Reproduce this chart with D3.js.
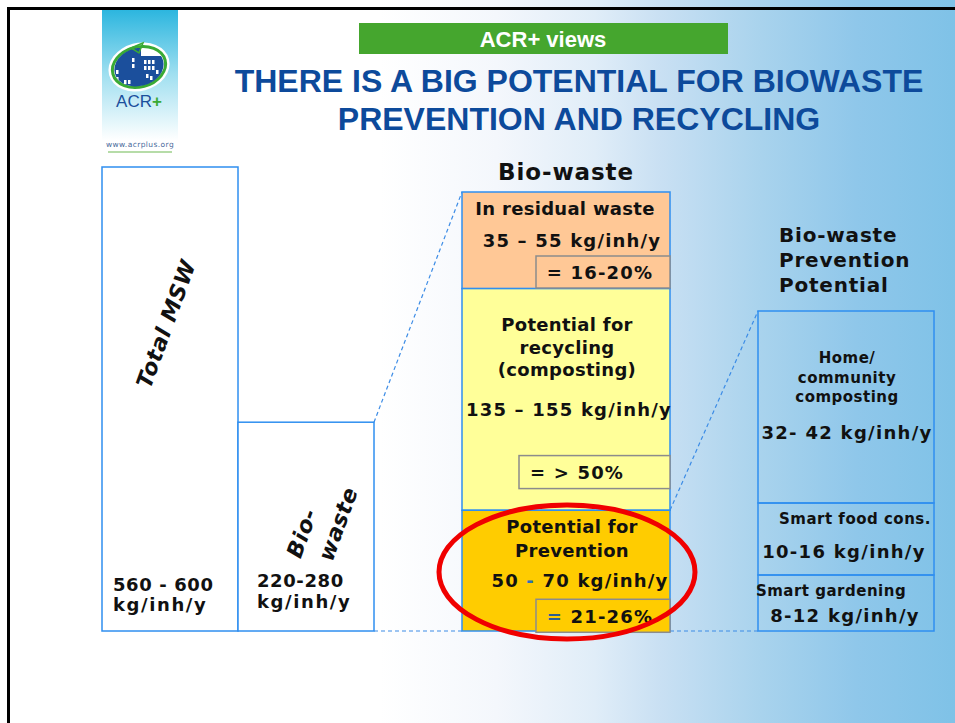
<!DOCTYPE html>
<html>
<head>
<meta charset="utf-8">
<script src="https://cdn.jsdelivr.net/npm/d3@7"></script>
<style>
  html, body { margin: 0; padding: 0; background: #fff; }
  svg { display: block; }
</style>
</head>
<body>
<svg></svg>
<script>
var width = 955
var height = 723

// ---- data ----
const mainCats = ["Total MSW", "Bio-waste"];
const mainValues = [600, 270];               // kg/inh/y, as drawn
const mainRanges = [["560 - 600", "kg/inh/y"], ["220-280", "kg/inh/y"]];

const bioCats = [["In residual waste"], ["Potential for", "recycling", "(composting)"], ["Potential for", "Prevention"]];
const bioShares = [22, 50.5, 27.5];          // % of bio-waste, as drawn
const bioRanges = ["35 – 55 kg/inh/y", "135 – 155 kg/inh/y", "50 - 70 kg/inh/y"];
const bioPct = ["= 16-20%", "= > 50%", "= 21-26%"];

const prevCats = [["Home/", "community", "composting"], ["Smart food cons."], ["Smart gardening"]];
const prevValues = [36, 13.5, 10.5];         // kg/inh/y, as drawn
const prevRanges = ["32- 42 kg/inh/y", "10-16 kg/inh/y", "8-12 kg/inh/y"];

// ---- layout ----
const base = 631
const cols = {msw: [102, 238], bio: [238, 374], detail: [462, 670], prev: [758, 934]}
const bioFill = ["#ffc896", "#ffff99", "#ffcc00"]
const barStroke = "#2f8ff0"
const txt = "#111"
const font = "'DejaVu Sans', Verdana, sans-serif"

var yMain = d3.scaleLinear().domain([0, 600]).range([base, 167])
var yBio = d3.scaleLinear().domain([0, d3.sum(bioShares)]).range([base, 192])
var yPrev = d3.scaleLinear().domain([0, d3.sum(prevValues)]).range([base, 311])

// stack from the top down
function stackTop(values, y) {
    const total = d3.sum(values)
    let acc = 0
    return values.map(v => {
        const s = {y0: y(total - acc), y1: y(total - acc - v)}
        acc += v
        return s
    })
}

const svg = d3.select("svg")
    .attr("width", width)
    .attr("height", height)
    .attr("viewBox", [0, 0, width, height]);

const defs = svg.append("defs")
const bg = defs.append("linearGradient").attr("id", "bg")
    .attr("gradientUnits", "userSpaceOnUse")
    .attr("x1", 0).attr("x2", width).attr("y1", 0).attr("y2", 0)
;[[0, "#ffffff"], [380, "#ffffff"], [496, "#f4f7fc"], [595, "#e0edf8"], [660, "#c9e0f3"],
  [760, "#a9d3ed"], [857, "#8fc7ea"], [955, "#7fc2e7"]].forEach(s =>
    bg.append("stop").attr("offset", s[0] / width).attr("stop-color", s[1]))

const lg = defs.append("linearGradient").attr("id", "logo")
    .attr("x1", 0).attr("x2", 0).attr("y1", 0).attr("y2", 1)
lg.append("stop").attr("offset", 0).attr("stop-color", "#2cb6df")
lg.append("stop").attr("offset", 0.45).attr("stop-color", "#9fdff0")
lg.append("stop").attr("offset", 0.92).attr("stop-color", "#ffffff")

defs.append("clipPath").attr("id", "logoclip")
    .append("ellipse").attr("cx", 139).attr("cy", 67).attr("rx", 25).attr("ry", 19)
    .attr("transform", "rotate(-15,139,67)")

svg.append("rect").attr("width", width).attr("height", height).attr("fill", "url(#bg)")

// slide frame
svg.append("rect")
    .attr("x", 8.5).attr("y", 8.5).attr("width", width).attr("height", height)
    .attr("fill", "none").attr("stroke", "#000").attr("stroke-width", 3)

// ---- logo ----
const logo = svg.append("g")
logo.append("rect").attr("x", 102).attr("y", 10).attr("width", 76).attr("height", 142).attr("fill", "url(#logo)")
logo.append("ellipse").attr("cx", 139).attr("cy", 67).attr("rx", 31).attr("ry", 24)
    .attr("transform", "rotate(-15,139,67)").attr("fill", "#fff")
logo.append("ellipse").attr("cx", 139).attr("cy", 67).attr("rx", 27).attr("ry", 20)
    .attr("transform", "rotate(-15,139,67)").attr("fill", "#fff")
    .attr("stroke", "#3aaa35").attr("stroke-width", 3)
const bld = logo.append("g").attr("clip-path", "url(#logoclip)")
bld.append("rect").attr("x", 110).attr("y", 48).attr("width", 31).attr("height", 42).attr("fill", "#1b4f9c")
bld.append("rect").attr("x", 141).attr("y", 56).attr("width", 24).attr("height", 34).attr("fill", "#1b4f9c")
;[[116, 70], [116, 77], [124, 80], [128, 80], [132, 58], [132, 64], [144, 60], [148, 60], [152, 60],
  [144, 66], [148, 66], [152, 66], [146, 74], [150, 76], [156, 70]].forEach(w =>
    bld.append("rect").attr("x", w[0]).attr("y", w[1]).attr("width", 2.5).attr("height", 4).attr("fill", "#fff"))
logo.append("path").attr("d", "M131,48 L143,43 L139,53 Z").attr("fill", "none")
    .attr("stroke", "#3aaa35").attr("stroke-width", 1.5)
const acr = logo.append("text").attr("x", 139).attr("y", 107).attr("text-anchor", "middle")
    .style("font", "17px 'Liberation Sans', Arial, sans-serif")
acr.append("tspan").attr("fill", "#1b4f9c").text("ACR")
acr.append("tspan").attr("fill", "#3aaa35").attr("font-weight", "bold").text("+")
logo.append("text").attr("x", 140).attr("y", 147).attr("text-anchor", "middle")
    .attr("fill", "#4a6b9c").style("font", "7.5px 'DejaVu Sans', sans-serif")
    .attr("letter-spacing", 0.4).text("www.acrplus.org")
logo.append("line").attr("x1", 108).attr("x2", 172).attr("y1", 152).attr("y2", 152)
    .attr("stroke", "#b6dca8").attr("stroke-width", 2)

// ---- header ----
svg.append("rect").attr("x", 359).attr("y", 23).attr("width", 369).attr("height", 31).attr("fill", "#45a62e")
svg.append("text").attr("x", 543).attr("y", 47).attr("text-anchor", "middle")
    .attr("fill", "#fff").style("font", "bold 22px 'Liberation Sans', Arial, sans-serif")
    .text("ACR+ views")
svg.append("g").selectAll("text")
    .data(["THERE IS A BIG POTENTIAL FOR BIOWASTE", "PREVENTION AND RECYCLING"])
    .join("text")
    .attr("x", 579).attr("y", (d, i) => 92 + i * 38)
    .attr("text-anchor", "middle").attr("fill", "#0d4a9b")
    .style("font", "bold 32px 'Liberation Sans', Arial, sans-serif")
    .text(d => d)

// ---- connectors ----
const dash = svg.append("g").attr("stroke", "#3c8ce6").attr("stroke-width", 1.2)
    .attr("stroke-dasharray", "4,3").attr("fill", "none")
dash.append("line").attr("x1", cols.bio[1]).attr("y1", yMain(mainValues[1]))
    .attr("x2", cols.detail[0]).attr("y2", yBio(d3.sum(bioShares)))
dash.append("line").attr("x1", cols.bio[1]).attr("y1", base).attr("x2", cols.detail[0]).attr("y2", base)
dash.append("line").attr("x1", cols.detail[1]).attr("y1", yBio(bioShares[2]))
    .attr("x2", cols.prev[0]).attr("y2", yPrev(d3.sum(prevValues)))
dash.append("line").attr("x1", cols.detail[1]).attr("y1", base).attr("x2", cols.prev[0]).attr("y2", base)

// ---- main bars ----
const mainCols = [cols.msw, cols.bio]
svg.append("g").selectAll("rect")
    .data(mainValues)
    .join("rect")
    .attr("x", (d, i) => mainCols[i][0])
    .attr("y", d => yMain(d))
    .attr("width", (d, i) => mainCols[i][1] - mainCols[i][0])
    .attr("height", d => base - yMain(d))
    .attr("fill", "#fff").attr("stroke", barStroke).attr("stroke-width", 1.5)

function rotLabel(x, y, t, size) {
    svg.append("text")
        .attr("transform", `translate(${x},${y}) rotate(-70)`)
        .attr("text-anchor", "middle").attr("dy", "0.35em")
        .attr("fill", txt).attr("letter-spacing", 0.5)
        .style("font", `italic bold ${size}px ${font}`)
        .text(t)
}
rotLabel(166, 324, mainCats[0], 22)
rotLabel(302, 533, "Bio-", 22)
rotLabel(338, 524, "waste", 22)

const rangeX = [113, 257], rangeY = [[591, 611], [587, 608]]
mainRanges.forEach((r, i) => r.forEach((line, j) =>
    svg.append("text").attr("x", rangeX[i]).attr("y", rangeY[i][j])
        .attr("fill", txt).attr("letter-spacing", j ? 1.6 : 0.6)
        .style("font", `bold 18px ${font}`).text(line)))

// ---- bio-waste breakdown ----
svg.append("text").attr("x", 566).attr("y", 180).attr("text-anchor", "middle")
    .attr("fill", txt).attr("letter-spacing", 0.9)
    .style("font", `bold 23px ${font}`).text("Bio-waste")

const bioSeg = stackTop(bioShares, yBio)
svg.append("g").selectAll("rect")
    .data(bioSeg)
    .join("rect")
    .attr("x", cols.detail[0]).attr("y", d => d.y0)
    .attr("width", cols.detail[1] - cols.detail[0]).attr("height", d => d.y1 - d.y0)
    .attr("fill", (d, i) => bioFill[i]).attr("stroke", barStroke).attr("stroke-width", 1.5)

// offsets from each segment top
const bioLay = [
    {cx: 565, lines: [23], vx: 572, vy: 55, box: [536, 64, 32], px: 600, py: 87},
    {cx: 567, lines: [42, 65, 87], vx: 569, vy: 127, box: [519, 167, 33], px: 577, py: 190},
    {cx: 572, lines: [23, 47], vx: 580, vy: 77, box: [536, 89, 33], px: 600, py: 113}
]
bioSeg.forEach((s, i) => {
    const L = bioLay[i]
    bioCats[i].forEach((line, j) =>
        svg.append("text").attr("x", L.cx).attr("y", s.y0 + L.lines[j]).attr("text-anchor", "middle")
            .attr("fill", txt).attr("letter-spacing", 0.3)
            .style("font", `bold 18px ${font}`).text(line))
    const v = svg.append("text").attr("x", L.vx).attr("y", s.y0 + L.vy).attr("text-anchor", "middle")
        .attr("fill", txt).attr("letter-spacing", 1.2).style("font", `bold 18px ${font}`)
    if (i === 2) {
        const p = bioRanges[i].split(" - ")
        v.append("tspan").text(p[0] + " ")
        v.append("tspan").attr("fill", "#2d6fb8").text("-")
        v.append("tspan").text(" " + p[1])
    } else v.text(bioRanges[i])
    svg.append("rect").attr("x", L.box[0]).attr("y", s.y0 + L.box[1])
        .attr("width", cols.detail[1] - L.box[0]).attr("height", L.box[2])
        .attr("fill", bioFill[i]).attr("stroke", "#8c8c8c").attr("stroke-width", 1.5)
    const pt = svg.append("text").attr("x", L.px).attr("y", s.y0 + L.py).attr("text-anchor", "middle")
        .attr("fill", txt).attr("letter-spacing", 1.2).style("font", `bold 18px ${font}`)
    if (i === 2) {
        pt.append("tspan").attr("fill", "#2d5f8f").text("=")
        pt.append("tspan").text(bioPct[i].slice(1))
    } else pt.text(bioPct[i])
})

// ---- prevention potential ----
svg.append("g").selectAll("text")
    .data(["Bio-waste", "Prevention", "Potential"])
    .join("text")
    .attr("x", 779).attr("y", (d, i) => 242 + i * 25)
    .attr("fill", txt).attr("letter-spacing", 0.8)
    .style("font", `bold 20px ${font}`)
    .text(d => d)

const prevSeg = stackTop(prevValues, yPrev)
svg.append("g").selectAll("rect")
    .data(prevSeg)
    .join("rect")
    .attr("x", cols.prev[0]).attr("y", d => d.y0)
    .attr("width", cols.prev[1] - cols.prev[0]).attr("height", d => d.y1 - d.y0)
    .attr("fill", "none").attr("stroke", barStroke).attr("stroke-width", 1.5)

const prevLay = [
    {cx: 847, lines: [52, 72, 91], vx: 847, vy: 128},
    {cx: 855, lines: [21], vx: 844, vy: 55},
    {cx: 831, lines: [21], vx: 845, vy: 47}
]
prevSeg.forEach((s, i) => {
    const L = prevLay[i]
    prevCats[i].forEach((line, j) =>
        svg.append("text").attr("x", L.cx).attr("y", s.y0 + L.lines[j]).attr("text-anchor", "middle")
            .attr("fill", txt).attr("letter-spacing", 0.5)
            .style("font", `bold 15px ${font}`).text(line))
    svg.append("text").attr("x", L.vx).attr("y", s.y0 + L.vy).attr("text-anchor", "middle")
        .attr("fill", txt).attr("letter-spacing", 1.3)
        .style("font", `bold 18px ${font}`).text(prevRanges[i])
})

// ---- highlight ----
svg.append("ellipse")
    .attr("cx", 567).attr("cy", 572).attr("rx", 128).attr("ry", 67)
    .attr("fill", "none").attr("stroke", "#f00000").attr("stroke-width", 5)
</script>
</body>
</html>
